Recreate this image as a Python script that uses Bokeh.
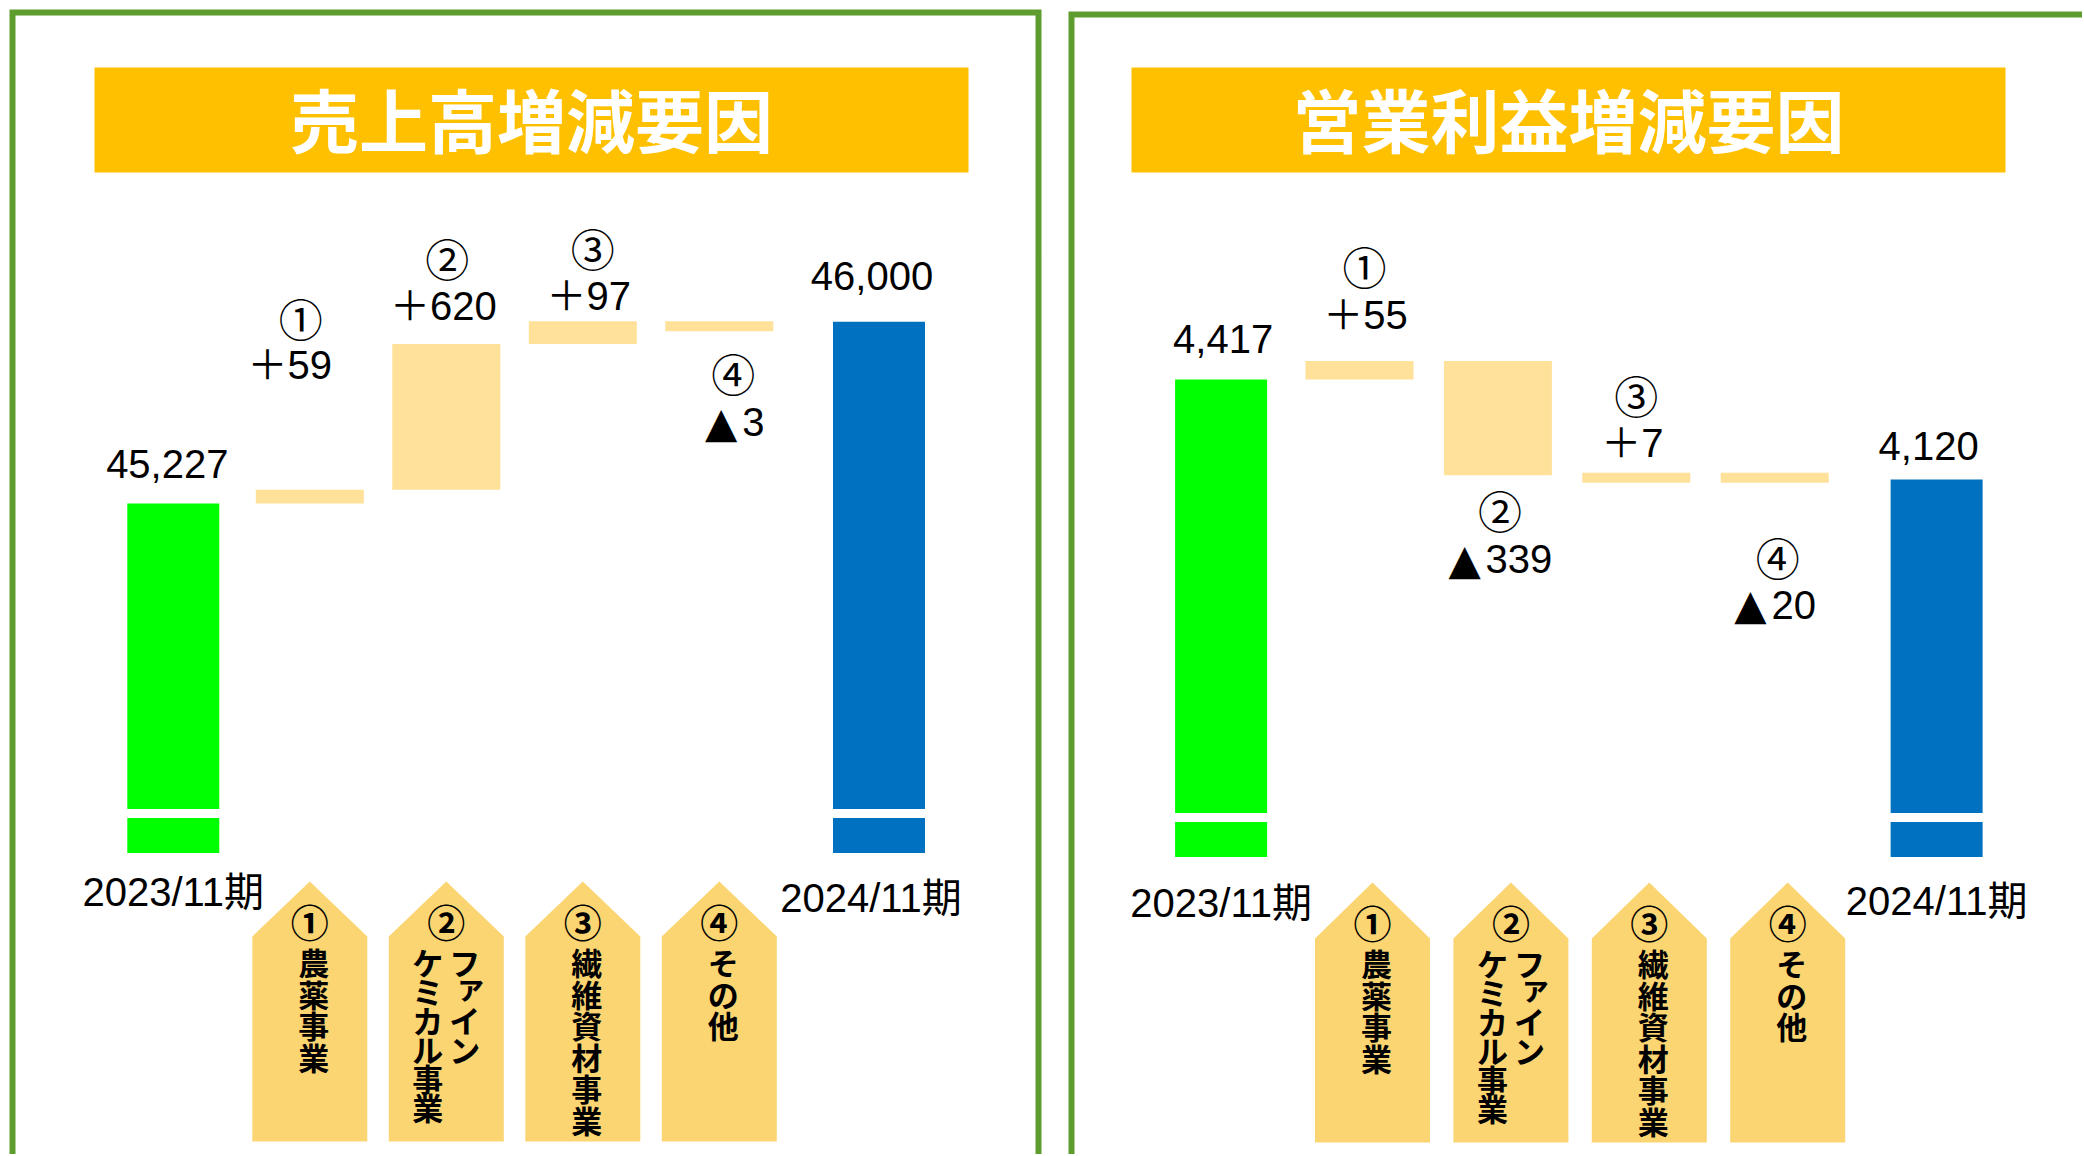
from bokeh.plotting import figure
from bokeh.models import Range1d
from bokeh.embed import file_html
from bokeh.resources import INLINE
from bokeh.core.properties import value

# ---------------- data ----------------
steps = ["2023/11期", "①", "②", "③", "④", "2024/11期"]

sales_title = "売上高増減要因"
sales_start = 45227
sales_changes = [59, 620, 97, -3]
sales_end = 46000

profit_title = "営業利益増減要因"
profit_start = 4417
profit_changes = [55, -339, 7, -20]
profit_end = 4120

factor_marks = ["①", "②", "③", "④"]
factor_lines = [["農薬事業"], ["ファイン", "ケミカル事業"], ["繊維資材事業"], ["その他"]]

# ---------------- layout / style ----------------
W, H = 2082, 1154
NUM_FONT = "Liberation Sans, Noto Sans CJK JP, DejaVu Sans"
JP_FONT = "Noto Sans CJK JP"
TRI_FONT = "DejaVu Sans"
BORDER = "#5E9C2E"
TITLE_BG = "#FFC000"
START_C = "#00FF00"
END_C = "#0070C0"
STEP_C = "#FFE199"
TAG_C = "#FCD573"
MIN_PX = 10
NUM_PX = 40
END_GAP = 0.17          # extra space (in slots) before the final total bar
TOTAL_W, STEP_W, TAG_W = 92, 108, 115
SMALL_KANA = set("ァィゥェォャュョッ")

panels = [
    dict(key="L", title=sales_title, start=sales_start, changes=sales_changes, end=sales_end,
         xmap=(172.8, 136.5), ymap=(45227, 503, 0.235), base=43740,
         frame=[(12, H + 20), (12, 12), (1038, 12), (1038, H + 20)],
         title_box=(94, 968, 67, 172),
         start_off=40, end_off=46, tot_dx=(-6, -7),
         change_offs=[(125, 172), (38, 86), (25, 73), (91, 42)],
         change_dx=[(-20, -9), (-3, 1), (6, 10), (15, 14)],
         cat_off=[39, 45], cat_dx=(0, -8),
         tag=(881, 936, 1141), tag_dx=0),
    dict(key="R", title=profit_title, start=profit_start, changes=profit_changes, end=profit_end,
         xmap=(1220.6, 138.4), ymap=(4417, 379, 0.337), base=3000,
         frame=[(1071, H + 20), (1071, 14), (W + 20, 14)],
         title_box=(1131, 2005, 67, 172),
         start_off=41, end_off=34, tot_dx=(2, -8),
         change_offs=[(46, 95), (84, 35), (30, 78), (122, 74)],
         change_dx=[(6, 5), (2, 2), (-4, 0), (0, 3)],
         cat_off=[46, 44], cat_dx=(0, 0),
         tag=(882, 938, 1142), tag_dx=13),
]

p = figure(width=W, height=H, x_range=Range1d(0, W), y_range=Range1d(H, 0),
           output_backend="svg", toolbar_location=None, min_border=0,
           x_axis_location=None, y_axis_location=None,
           background_fill_color="white", border_fill_color="white",
           outline_line_color=None)
p.grid.grid_line_color = None

for c in panels:
    a, b = c["xmap"]
    v0, py0, s = c["ymap"]
    c["xr"] = (-a / b, (W - a) / b)
    top_v = v0 + py0 / s
    c["yr"] = (top_v - H / s, top_v)

p.extra_x_ranges = {"x" + c["key"]: Range1d(*c["xr"]) for c in panels}
p.extra_y_ranges = {"y" + c["key"]: Range1d(*c["yr"]) for c in panels}


def num_width(txt):
    return sum(0.278 * NUM_PX if ch == "," else 0.556 * NUM_PX for ch in txt)


n = len(steps)
xpos = [i + (END_GAP if i == n - 1 else 0) for i in range(n)]

for c in panels:
    xk, yk = "x" + c["key"], "y" + c["key"]
    s = c["ymap"][2]                 # px per value unit
    ppi = c["xmap"][1]               # px per category slot
    txt_kw = dict(text_color="black", text_baseline="middle", x_range_name=xk, y_range_name=yk)

    # panel frame and title
    p.line([q[0] for q in c["frame"]], [q[1] for q in c["frame"]],
           line_color=BORDER, line_width=6, line_join="miter")
    l, r, t, bt_ = c["title_box"]
    p.quad(left=[l], right=[r], top=[t], bottom=[bt_], fill_color=TITLE_BG, line_color=None)
    p.text(x=[(l + r) / 2], y=[(t + bt_) / 2 - 2], text=[c["title"]],
           text_font=value(JP_FONT), text_font_style="bold", text_font_size="69px",
           text_color="white", text_align="center", text_baseline="middle")

    # waterfall steps
    level = c["start"]
    sx, stop, sbot = [], [], []
    pos_x, pos_y, pos_t, pos_dx = [], [], [], []
    neg_x, neg_y, neg_t, neg_off, tri_off = [], [], [], [], []
    mk_x, mk_y, mk_t, mk_dx = [], [], [], []
    for i, ch in enumerate(c["changes"], start=1):
        lo, hi = sorted((level, level + ch))
        if (hi - lo) * s < MIN_PX:
            lo = hi - MIN_PX / s
        sx.append(xpos[i]); stop.append(hi); sbot.append(lo)
        off_v, off_m = c["change_offs"][i - 1]
        dx_v, dx_m = c["change_dx"][i - 1]
        if ch > 0:
            pos_x.append(xpos[i]); pos_y.append(hi + off_v / s); pos_t.append(f"＋{ch:,}")
            pos_dx.append(dx_v)
            my = hi + off_m / s
        else:
            num = f"{abs(ch):,}"
            left = -(34 + 4 + num_width(num)) / 2 + dx_v
            neg_x.append(xpos[i]); neg_y.append(lo - off_v / s); neg_t.append(num)
            neg_off.append(left + 38); tri_off.append(left + 17)
            my = lo - off_m / s
        mk_x.append(xpos[i]); mk_y.append(my); mk_t.append(steps[i]); mk_dx.append(dx_m)
        level += ch

    p.vbar(x=sx, top=stop, bottom=sbot, width=STEP_W / ppi, fill_color=STEP_C, line_color=None,
           x_range_name=xk, y_range_name=yk)

    # start / end totals
    tot_x = [xpos[0], xpos[-1]]
    tot_v = [c["start"], c["end"]]
    p.vbar(x=tot_x, top=tot_v, bottom=c["base"], width=TOTAL_W / ppi,
           fill_color=[START_C, END_C], line_color=None, x_range_name=xk, y_range_name=yk)
    # axis-break band
    p.vbar(x=tot_x, top=c["base"] + 44 / s, bottom=c["base"] + 35 / s, width=(TOTAL_W + 6) / ppi,
           fill_color="white", line_color=None, x_range_name=xk, y_range_name=yk)

    pos_x += tot_x
    pos_y += [c["start"] + c["start_off"] / s, c["end"] + c["end_off"] / s]
    pos_t += [f"{v:,}" for v in tot_v]
    pos_dx += list(c["tot_dx"])
    p.text(x=pos_x, y=pos_y, text=pos_t, x_offset=pos_dx, text_font=value(NUM_FONT),
           text_font_size=f"{NUM_PX}px", text_align="center", **txt_kw)
    # negative changes: triangle mark + number
    p.text(x=neg_x, y=neg_y, text=["▲"] * len(neg_x), x_offset=tri_off,
           text_font=value(TRI_FONT), text_font_size="42px", text_align="center", **txt_kw)
    p.text(x=neg_x, y=neg_y, text=neg_t, x_offset=neg_off, text_font=value(NUM_FONT),
           text_font_size=f"{NUM_PX}px", text_align="left", **txt_kw)
    # circled factor numbers
    p.text(x=mk_x, y=mk_y, text=mk_t, x_offset=mk_dx, text_font=value(JP_FONT),
           text_font_size="44px", text_align="center", **txt_kw)

    # period labels under totals
    p.text(x=tot_x, y=[c["base"] - c["cat_off"][0] / s, c["base"] - c["cat_off"][1] / s],
           text=[steps[0], steps[-1]], x_offset=list(c["cat_dx"]), text_font=value(NUM_FONT),
           text_font_size="40px", text_align="center", **txt_kw)

    # factor tags (pentagon arrows)
    tip, sh, bt = c["tag"]
    hw = TAG_W / 2 / ppi
    tdx = c["tag_dx"] / ppi
    tag_x = [xpos[i] + tdx for i in range(1, n - 1)]
    xs, ys = [], []
    for xc in tag_x:
        xs.append([xc - hw, xc - hw, xc, xc + hw, xc + hw])
        ys.append([bt, sh, tip, sh, bt])
    p.patches(xs, ys, fill_color=TAG_C, line_color=None, x_range_name=xk)

    p.text(x=tag_x, y=[tip + 39] * (n - 2), text=factor_marks,
           text_font=value(JP_FONT), text_font_style="bold", text_font_size="38px",
           text_color="black", text_align="center", text_baseline="middle", x_range_name=xk)

    cx, cy, ct = [], [], []
    for xc, lines in zip(tag_x, factor_lines):
        ncol = len(lines)
        pitch = 31.5 if ncol == 1 else 29
        for j, line in enumerate(lines):
            dx = ((ncol - 1) / 2 - j) * 37 + (4 if ncol == 1 else 0)
            for k, ch in enumerate(line):
                ox, oy = (6, -6) if ch in SMALL_KANA else (0, 0)
                cx.append(xc + (dx + ox) / ppi)
                cy.append(tip + 80 + k * pitch + oy)
                ct.append(ch)
    p.text(x=cx, y=cy, text=ct, text_font=value(JP_FONT), text_font_style="bold",
           text_font_size="31px", text_color="black", text_align="center",
           text_baseline="middle", x_range_name=xk)

open("out.html", "w").write(file_html(p, INLINE))
